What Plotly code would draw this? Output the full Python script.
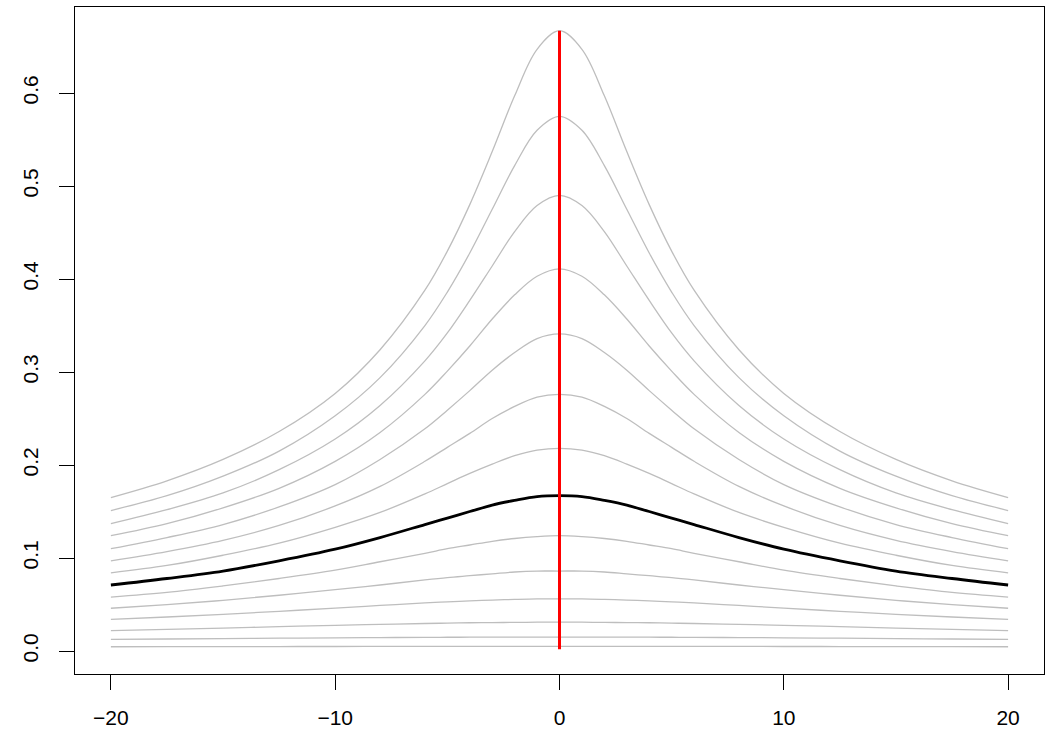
import plotly.graph_objects as go

# x positions (right half, symmetric curves)
x_right = [0, 1, 2, 3, 4, 5, 6, 8, 10, 12.5, 15, 17.5, 20]

# gray curves (values at x_right), top to bottom
curve_01 = [0.667, 0.647, 0.597, 0.537, 0.480, 0.430, 0.388, 0.324, 0.277, 0.236, 0.206, 0.183, 0.165]
curve_02 = [0.575, 0.560, 0.522, 0.475, 0.428, 0.386, 0.350, 0.294, 0.253, 0.215, 0.188, 0.167, 0.151]
curve_03 = [0.490, 0.479, 0.451, 0.414, 0.377, 0.342, 0.312, 0.264, 0.228, 0.195, 0.170, 0.152, 0.137]
curve_04 = [0.411, 0.403, 0.383, 0.357, 0.328, 0.301, 0.276, 0.235, 0.204, 0.175, 0.154, 0.137, 0.124]
curve_05 = [0.341, 0.336, 0.321, 0.302, 0.280, 0.259, 0.239, 0.206, 0.179, 0.155, 0.136, 0.122, 0.110]
curve_06 = [0.276, 0.273, 0.263, 0.250, 0.234, 0.219, 0.204, 0.177, 0.156, 0.135, 0.119, 0.107, 0.097]
curve_07 = [0.218, 0.216, 0.210, 0.201, 0.191, 0.180, 0.169, 0.149, 0.133, 0.116, 0.103, 0.092, 0.084]
curve_09 = [0.124, 0.123, 0.121, 0.118, 0.114, 0.110, 0.105, 0.096, 0.087, 0.078, 0.070, 0.063, 0.058]
curve_10 = [0.086, 0.086, 0.085, 0.083, 0.081, 0.079, 0.0765, 0.071, 0.066, 0.060, 0.0545, 0.050, 0.046]
curve_11 = [0.056, 0.056, 0.0555, 0.0548, 0.0539, 0.0529, 0.0517, 0.049, 0.0462, 0.0427, 0.0395, 0.0366, 0.034]
curve_12 = [0.031, 0.031, 0.0308, 0.0306, 0.0304, 0.030, 0.0296, 0.0287, 0.0276, 0.0262, 0.0247, 0.0233, 0.022]
curve_13 = [0.015, 0.015, 0.01497, 0.01492, 0.01486, 0.01479, 0.0147, 0.01448, 0.01421, 0.01383, 0.0134, 0.01295, 0.0125]
curve_14 = [0.005, 0.005, 0.005, 0.00499, 0.00498, 0.00497, 0.00496, 0.00493, 0.00489, 0.00483, 0.00476, 0.00468, 0.0046]

# highlighted black curve
curve_black = [0.167, 0.166, 0.162, 0.157, 0.150, 0.143, 0.136, 0.122, 0.1095, 0.097, 0.086, 0.078, 0.071]

# red vertical segment at x = 0
red_x = [0, 0]
red_y = [0.002, 0.667]

x_ticks = [-20, -10, 0, 10, 20]
x_tick_text = ["\u221220", "\u221210", "0", "10", "20"]
y_ticks = [0.0, 0.1, 0.2, 0.3, 0.4, 0.5, 0.6]
y_tick_text = ["0.0", "0.1", "0.2", "0.3", "0.4", "0.5", "0.6"]

gray_curves = [curve_01, curve_02, curve_03, curve_04, curve_05, curve_06, curve_07,
               curve_09, curve_10, curve_11, curve_12, curve_13, curve_14]


def full(vals):
    return vals[::-1] + vals[1:]


x_full = [-v for v in x_right[::-1]] + x_right[1:]

fig = go.Figure()
for c in gray_curves:
    fig.add_trace(go.Scatter(x=x_full, y=full(c), mode="lines",
                             line=dict(color="#BEBEBE", width=1.3, shape="spline"),
                             hoverinfo="skip", showlegend=False))
fig.add_trace(go.Scatter(x=x_full, y=full(curve_black), mode="lines",
                         line=dict(color="black", width=2.8, shape="spline"),
                         showlegend=False))
fig.add_trace(go.Scatter(x=red_x, y=red_y, mode="lines",
                         line=dict(color="#FF0000", width=3),
                         showlegend=False))

font = dict(family="Liberation Sans, Arial, sans-serif", size=21, color="black")
fig.update_layout(
    width=1050, height=750,
    margin=dict(l=75, r=6, t=7, b=76),
    paper_bgcolor="white", plot_bgcolor="white",
    showlegend=False,
    font=font,
)
fig.update_xaxes(range=[-21.6, 21.6], tickvals=x_ticks, ticktext=x_tick_text,
                 ticks="outside", ticklen=15, tickwidth=1, tickcolor="black",
                 showline=True, linecolor="black", linewidth=1, mirror=True,
                 showgrid=False, zeroline=False, tickfont=font, ticklabelstandoff=10)
fig.update_yaxes(range=[-0.0247, 0.6925], tickvals=y_ticks, ticktext=y_tick_text,
                 ticks="outside", ticklen=15, tickwidth=1, tickcolor="black",
                 showline=True, linecolor="black", linewidth=1, mirror=True,
                 showgrid=False, zeroline=False, tickangle=-90, tickfont=font,
                 ticklabelstandoff=13)

fig.write_html("out.html")
